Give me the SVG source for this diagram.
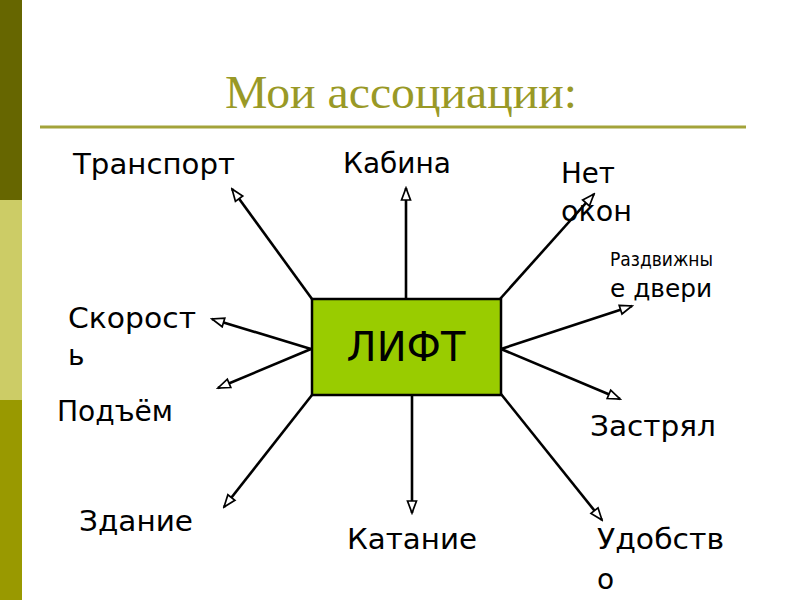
<svg xmlns="http://www.w3.org/2000/svg" width="800" height="600" viewBox="0 0 800 600">
  <style>
    .lbl { font-family: "DejaVu Sans", Verdana, sans-serif; font-size: 28px; fill: #000; }
    .small { font-size: 19px; }
    .mid { font-size: 24px; }
    .title { font-family: "Liberation Serif", "Times New Roman", serif; font-size: 47px; fill: #999926; }
    .conn { stroke: #000; stroke-width: 2.6; fill: none; marker-end: url(#arr); }
  </style>
  <defs>
    <marker id="arr" markerUnits="userSpaceOnUse" markerWidth="16" markerHeight="12" viewBox="0 0 16 12" refX="14" refY="6" orient="auto">
      <path d="M2,1.5 L14,6 L2,10.5 Z" fill="#fff" stroke="#000" stroke-width="1.7" stroke-linejoin="miter"/>
    </marker>
  </defs>
  <rect width="800" height="600" fill="#fff"/>
  <g id="sidebar">
    <rect x="0" y="0" width="22" height="200" fill="#666600"/>
    <rect x="0" y="200" width="22" height="200" fill="#CCCC66"/>
    <rect x="0" y="400" width="22" height="200" fill="#999900"/>
  </g>
  <g id="title">
    <text class="title" x="225" y="108" textLength="352" lengthAdjust="spacingAndGlyphs">Мои ассоциации:</text>
    <line x1="40" y1="127" x2="746" y2="127" stroke="#A3A33A" stroke-width="3"/>
  </g>
  <g id="connectors">
    <line class="conn" x1="312" y1="299" x2="232" y2="189"/>
    <line class="conn" x1="406" y1="299" x2="406" y2="188"/>
    <line class="conn" x1="500" y1="299" x2="594" y2="194"/>
    <line class="conn" x1="501" y1="349" x2="632" y2="306"/>
    <line class="conn" x1="501" y1="349" x2="620" y2="399"/>
    <line class="conn" x1="501" y1="394" x2="602" y2="520"/>
    <line class="conn" x1="412" y1="395" x2="412" y2="513"/>
    <line class="conn" x1="312" y1="395" x2="224" y2="507"/>
    <line class="conn" x1="311" y1="349" x2="218" y2="388"/>
    <line class="conn" x1="311" y1="349" x2="212" y2="319"/>
  </g>
  <g id="lift">
    <rect x="312" y="299" width="189" height="96" fill="#99CC00" stroke="#000" stroke-width="2.5"/>
    <text class="lbl" x="406" y="361" text-anchor="middle" style="font-size:40px">ЛИФТ</text>
  </g>
  <g id="transport"><text class="lbl" x="73" y="174" textLength="162" lengthAdjust="spacingAndGlyphs">Транспорт</text></g>
  <g id="kabina"><text class="lbl" x="343" y="173" textLength="108" lengthAdjust="spacingAndGlyphs">Кабина</text></g>
  <g id="net-okon">
    <text class="lbl" x="561" y="183" textLength="54" lengthAdjust="spacingAndGlyphs">Нет</text>
    <text class="lbl" x="561" y="221" textLength="71" lengthAdjust="spacingAndGlyphs">окон</text>
  </g>
  <g id="razdvizhnye">
    <text class="lbl small" x="610" y="266" textLength="103" lengthAdjust="spacingAndGlyphs">Раздвижны</text>
    <text class="lbl mid" x="610" y="297" textLength="102" lengthAdjust="spacingAndGlyphs">е двери</text>
  </g>
  <g id="zastryal"><text class="lbl" x="590" y="436" textLength="126" lengthAdjust="spacingAndGlyphs">Застрял</text></g>
  <g id="udobstvo">
    <text class="lbl" x="597" y="549" textLength="127" lengthAdjust="spacingAndGlyphs">Удобств</text>
    <text class="lbl" x="597" y="589">о</text>
  </g>
  <g id="katanie"><text class="lbl" x="347" y="549" textLength="130" lengthAdjust="spacingAndGlyphs">Катание</text></g>
  <g id="zdanie"><text class="lbl" x="79" y="531" textLength="114" lengthAdjust="spacingAndGlyphs">Здание</text></g>
  <g id="podyom"><text class="lbl" x="57" y="421" textLength="116" lengthAdjust="spacingAndGlyphs">Подъём</text></g>
  <g id="skorost">
    <text class="lbl" x="68" y="328" textLength="128" lengthAdjust="spacingAndGlyphs">Скорост</text>
    <text class="lbl" x="68" y="365">ь</text>
  </g>
</svg>
